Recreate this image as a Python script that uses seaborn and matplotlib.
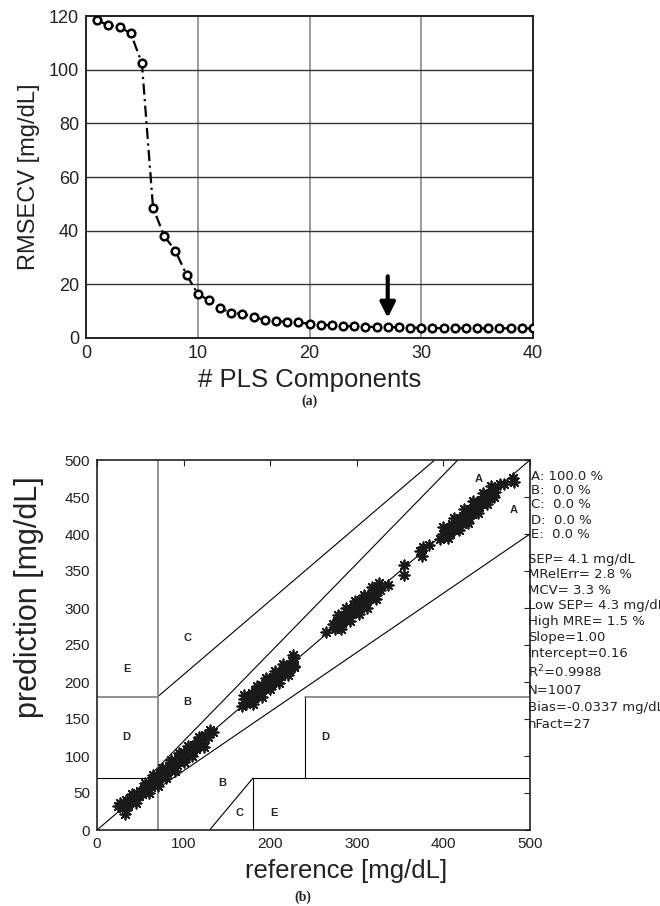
import matplotlib
matplotlib.use("Agg")
import matplotlib.pyplot as plt
import seaborn as sns
import numpy as np
import pandas as pd

# ---------------- data ----------------
components = list(range(1, 41))
rmsecv = [118.5, 116.5, 116.0, 113.5, 102.5, 48.5, 38.0, 32.5, 23.5, 16.5,
          14.0, 11.0, 9.5, 9.0, 7.8, 6.8, 6.3, 6.0, 5.8, 5.3,
          5.0, 4.7, 4.5, 4.3, 4.2, 4.1, 4.1, 4.0, 3.9, 3.8,
          3.7, 3.7, 3.7, 3.6, 3.6, 3.6, 3.6, 3.6, 3.6, 3.6]
chosen_factor = 27

reference = [24, 27, 30, 32, 33, 34, 36, 38, 40, 42, 44, 46, 48, 50, 52, 54, 55, 57, 59, 60,
             62, 63, 65, 67, 68, 70, 71, 73, 75, 76, 78, 80, 81, 83, 85, 86, 88, 90, 92, 93,
             95, 97, 99, 100, 102, 104, 106, 108, 110, 112, 114, 116, 118, 120, 122, 125, 128, 131, 134,
             40, 45, 55, 60, 65, 70, 75, 80, 85, 90, 95, 100, 105, 110, 118, 123,
             167, 170, 172, 175, 177, 179, 181, 183, 185, 187, 189, 191, 193, 195, 197, 199, 201, 203,
             205, 207, 209, 211, 213, 215, 217, 220, 222, 225, 227, 228,
             170, 180, 185, 190, 195, 200, 205, 210, 215, 220, 226, 228,
             265, 272, 275, 277, 279, 281, 283, 285, 287, 289, 291, 293, 295, 297, 299, 301, 303, 305,
             307, 309, 311, 313, 316, 319, 322, 325, 327, 336,
             278, 282, 288, 292, 298, 302, 308, 312, 318, 322, 326,
             354, 355, 373, 375, 377, 383,
             396, 399, 402, 405, 408, 410, 412, 415, 417, 419, 421, 423, 425, 426, 427, 429, 431, 433,
             435, 437, 439, 441, 443, 445, 447, 449, 451, 453, 456, 460, 465, 470, 480, 481,
             400, 405, 412, 418, 424, 428, 434, 440, 446, 450, 455, 458]
prediction = [33, 37, 30, 22, 27, 40, 34, 42, 38, 45, 40, 50, 46, 53, 48, 57, 52, 60, 55, 63,
              58, 66, 62, 70, 64, 73, 68, 77, 71, 80, 74, 84, 78, 87, 82, 90, 84, 94, 88, 97,
              92, 101, 95, 105, 98, 108, 102, 112, 106, 115, 110, 120, 114, 124, 117, 129, 126, 135, 132,
              48, 37, 64, 50, 74, 60, 84, 70, 94, 80, 104, 92, 114, 100, 126, 112,
              168, 177, 170, 180, 174, 185, 178, 188, 182, 192, 186, 196, 190, 200, 193, 204, 197, 207,
              201, 211, 205, 214, 208, 218, 212, 222, 216, 228, 222, 232,
              182, 170, 195, 180, 206, 190, 215, 198, 224, 210, 236, 220,
              267, 278, 272, 283, 276, 287, 280, 291, 284, 295, 288, 299, 292, 303, 296, 307, 300, 311,
              304, 314, 308, 318, 313, 322, 318, 330, 325, 331,
              290, 272, 300, 282, 310, 292, 318, 300, 328, 312, 334,
              358, 345, 377, 370, 382, 385,
              393, 400, 398, 408, 402, 413, 406, 418, 411, 421, 414, 425, 419, 417, 430, 422, 434, 427,
              438, 431, 442, 436, 446, 440, 450, 444, 454, 449, 458, 457, 467, 468, 476, 470,
              410, 395, 422, 405, 434, 415, 445, 428, 456, 440, 465, 450]

zone_labels = ["A", "A", "B", "B", "C", "C", "D", "D", "E", "E"]
zone_x = [441, 481, 104, 145, 104, 164, 34, 264, 34, 204]
zone_y = [474, 433, 173, 64, 259, 23, 125, 125, 218, 23]

stats_lines = ["A: 100.0 %", "B:  0.0 %", "C:  0.0 %", "D:  0.0 %", "E:  0.0 %",
               "SEP= 4.1 mg/dL", "MRelErr= 2.8 %", "MCV= 3.3 %", "Low SEP= 4.3 mg/dL",
               "High MRE= 1.5 %", "Slope=1.00", "Intercept=0.16", "R$^2$=0.9988",
               "N=1007", "Bias=-0.0337 mg/dL", "nFact=27"]
stats_ypx = [476, 490, 505, 520, 535, 559, 575, 591, 606, 622, 638, 654, 672, 690, 708, 725]

# ---------------- style ----------------
sns.set_style("white")
plt.rcParams['font.family'] = ['Liberation Sans', 'DejaVu Sans']
plt.rcParams['mathtext.fontset'] = 'dejavusans'

W, H = 660, 906
fig = plt.figure(figsize=(W / 100, H / 100), dpi=100)

def fig_axes(l, t, r, b):
    return fig.add_axes([l / W, 1 - b / H, (r - l) / W, (b - t) / H])

INK = "#222222"

# ---------------- (a) ----------------
ax1 = fig_axes(86, 16, 533, 338)
df1 = pd.DataFrame({"comp": components, "rmsecv": rmsecv})
sns.lineplot(data=df1, x="comp", y="rmsecv", ax=ax1, color="black", lw=1.6,
             linestyle=(0, (5, 2, 1, 2)), marker="o", markersize=5.5,
             markerfacecolor="white", markeredgecolor="black", markeredgewidth=1.8,
             zorder=3)
ax1.set_xlim(0, 40)
ax1.set_ylim(0, 120)
ax1.set_xticks([0, 10, 20, 30, 40])
ax1.set_yticks([0, 20, 40, 60, 80, 100, 120])
for xv in [10, 20, 30]:
    ax1.axvline(xv, color="#8a8a8a", lw=1.2, zorder=0)
for yv in [20, 40, 60, 80, 100]:
    ax1.axhline(yv, color="#333333", lw=1.0, zorder=0)
ax1.annotate("", xy=(chosen_factor, 7.5), xytext=(chosen_factor, 23.0),
             arrowprops=dict(arrowstyle="-|>,head_width=0.45,head_length=0.9",
                             lw=3, color="black", shrinkA=0, shrinkB=0), zorder=4)
ax1.tick_params(axis="both", labelsize=13, direction="in", length=0, pad=5, colors=INK)
ax1.set_xlabel("# PLS Components", fontsize=18.5, labelpad=4, color=INK)
ax1.set_ylabel("RMSECV [mg/dL]", fontsize=17, labelpad=6, color=INK)
for s in ax1.spines.values():
    s.set_color(INK)
    s.set_linewidth(1.4)
fig.text(310 / W, 1 - 401 / H, "(a)", fontsize=10, fontweight="bold",
         family=["Liberation Serif", "DejaVu Serif"], ha="center", va="center")

# ---------------- (b) ----------------
ax2 = fig_axes(97, 460, 530, 830)
df2 = pd.DataFrame({"reference": reference, "prediction": prediction})
sns.scatterplot(data=df2, x="reference", y="prediction", ax=ax2, marker=(8, 2, 0),
                s=55, color="#1a1a1a", linewidth=1.3, zorder=3)
ax2.set_xlim(0, 500)
ax2.set_ylim(0, 500)
lk = dict(color="black", lw=0.8, zorder=2)
gk = dict(color="#888888", lw=1.3, zorder=2)
ax2.plot([0, 500], [0, 500], **lk)
ax2.plot([58.33, 416.67], [70, 500], **lk)
ax2.plot([70, 500], [56, 400], **lk)
ax2.plot([70, 390], [180, 500], **lk)
ax2.plot([130, 180], [0, 70], **lk)
ax2.plot([180, 180], [0, 70], **lk)
ax2.plot([180, 500], [70, 70], **lk)
ax2.plot([0, 70], [70, 70], **lk)
ax2.plot([240, 240], [70, 180], **lk)
ax2.plot([70, 70], [0, 500], **gk)
ax2.plot([0, 70], [180, 180], **gk)
ax2.plot([240, 500], [180, 180], **gk)
for lab, zx, zy in zip(zone_labels, zone_x, zone_y):
    ax2.text(zx, zy, lab, fontsize=8, fontweight="bold", ha="center", va="center")
ax2.set_xticks([0, 100, 200, 300, 400, 500])
ax2.set_yticks(list(range(0, 501, 50)))
ax2.tick_params(axis="both", labelsize=11, direction="in", length=4, width=0.8,
                top=True, right=True, pad=5, colors=INK)
ax2.set_xlabel("reference [mg/dL]", fontsize=18.5, color=INK)
ax2.set_ylabel("prediction [mg/dL]", fontsize=22, color=INK)
ax2.xaxis.set_label_coords((346 - 97) / 433, (830 - 859) / 370)
ax2.yaxis.set_label_coords((44 - 97) / 433, (830 - 597) / 370)
for s in ax2.spines.values():
    s.set_color(INK)
    s.set_linewidth(1.2)
for txt, ypx in zip(stats_lines, stats_ypx):
    xpx = 531 if ypx < 540 else 528
    fig.text(xpx / W, 1 - ypx / H, txt, fontsize=9.5, ha="left", va="center", color=INK,
             family=["DejaVu Sans"])
fig.text(303 / W, 1 - 897 / H, "(b)", fontsize=10, fontweight="bold",
         family=["Liberation Serif", "DejaVu Serif"], ha="center", va="center")

fig.savefig("out.png", dpi=100)
